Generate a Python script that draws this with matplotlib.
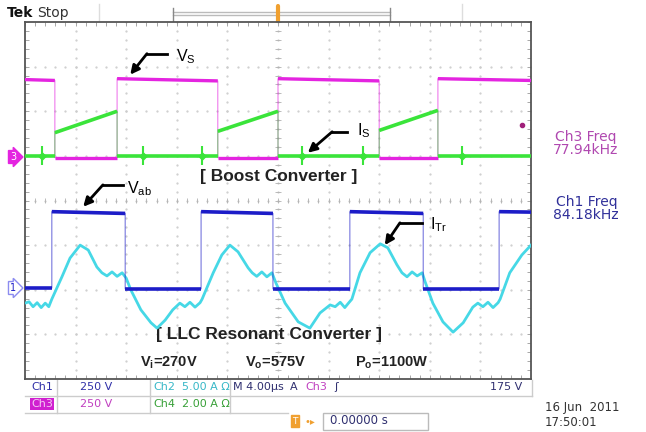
import numpy as np
import matplotlib.pyplot as plt

plt.rcParams['mathtext.fontset'] = 'custom'
plt.rcParams['mathtext.rm'] = 'Liberation Sans'
plt.rcParams['mathtext.bf'] = 'Liberation Sans:bold'

# screen units: 10 x divisions (4 us/div), 8 y divisions
# Ch3 - switch voltage Vs (magenta)
vs_t = [0, 0.59, 0.59, 1.82, 1.82, 3.81, 3.81, 5.0, 5.0, 7.0, 7.0, 8.16, 8.16, 10]
vs_v = [6.71, 6.69, 4.96, 4.96, 6.73, 6.68, 4.96, 4.96, 6.73, 6.68, 4.96, 4.96, 6.73, 6.69]

# Ch4 - switch current Is (green)
is_t = [0, 0.59, 0.59, 1.82, 1.82, 3.81, 3.81, 5.0, 5.0, 7.0, 7.0, 8.16, 8.16, 10]
is_v = [5.0, 5.0, 5.52, 6.0, 5.0, 5.0, 5.55, 6.0, 5.0, 5.0, 5.57, 6.02, 5.0, 5.0]
is_spike_t = [0.34, 2.34, 3.50, 5.47, 6.68, 8.64]

# Ch1 - bridge voltage Vab (blue)
vab_t = [0, 0.53, 0.53, 1.98, 1.98, 3.48, 3.48, 4.90, 4.90, 6.42, 6.42, 7.87, 7.87, 9.37, 9.37, 10]
vab_v = [2.04, 2.04, 3.75, 3.71, 2.02, 2.02, 3.75, 3.71, 2.02, 2.02, 3.75, 3.71, 2.02, 2.02, 3.75, 3.74]

# Ch2 - transformer current ITr (cyan)
itr_t = [0.00, 0.08, 0.16, 0.24, 0.32, 0.40, 0.47, 0.53,
         0.73, 0.89, 1.09, 1.25, 1.42,
         1.52, 1.62, 1.72, 1.82, 1.92, 2.00,
         2.09, 2.29, 2.49, 2.61, 2.77, 2.92,
         3.06, 3.16, 3.26, 3.36, 3.46, 3.50,
         3.72, 3.89, 4.05, 4.21, 4.41,
         4.49, 4.58, 4.68, 4.78, 4.88, 4.96,
         5.14, 5.40, 5.63, 5.83, 6.03,
         6.13, 6.23, 6.32, 6.40, 6.46,
         6.62, 6.82, 7.02, 7.17, 7.35,
         7.45, 7.55, 7.65, 7.75, 7.85, 7.91,
         8.06, 8.26, 8.46, 8.66, 8.85,
         8.95, 9.05, 9.15, 9.25, 9.35, 9.39,
         9.58, 9.82, 10.0]
itr_v = [1.70, 1.73, 1.62, 1.71, 1.60, 1.70, 1.62, 1.79,
         2.29, 2.71, 3.00, 2.89, 2.51,
         2.38, 2.31, 2.40, 2.30, 2.38, 2.26,
         2.00, 1.55, 1.26, 1.14, 1.32, 1.55,
         1.70, 1.62, 1.72, 1.61, 1.71, 1.79,
         2.38, 2.78, 3.00, 2.85, 2.49,
         2.38, 2.30, 2.40, 2.29, 2.38, 2.15,
         1.70, 1.28, 1.14, 1.48, 1.66,
         1.62, 1.72, 1.60, 1.71, 1.79,
         2.38, 2.83, 3.03, 2.94, 2.56,
         2.38, 2.29, 2.40, 2.31, 2.38, 2.17,
         1.70, 1.28, 1.05, 1.26, 1.61,
         1.70, 1.62, 1.72, 1.60, 1.71, 1.79,
         2.38, 2.78, 3.00]

MAG = '#e424e0'
GRN = '#3ae43a'
BLU = '#1c1cc8'
CYN = '#46d8e6'

W, H = 646, 432
fig = plt.figure(figsize=(W / 100, H / 100), dpi=100)

# pixel overlay for the scope decorations around the screen
deco = fig.add_axes([0, 0, 1, 1])
deco.set_xlim(0, W)
deco.set_ylim(H, 0)
deco.axis('off')

ax = fig.add_axes([25 / W, (H - 379) / H, 506 / W, 357 / H])
ax.set_xlim(0, 10)
ax.set_ylim(0, 8)
ax.set_xticks([])
ax.set_yticks([])
for s in ax.spines.values():
    s.set_color('#555555')
    s.set_linewidth(1.3)

# graticule
fine_x = np.arange(0, 10.01, 0.2)
fine_y = np.arange(0, 8.01, 0.2)
for i in range(1, 10):
    ax.plot([i] * len(fine_y), fine_y, ls='none', marker='.', ms=1.2, color='#cccccc')
for j in range(1, 8):
    ax.plot(fine_x, [j] * len(fine_x), ls='none', marker='.', ms=1.2, color='#cccccc')
ax.vlines(fine_x, 3.94, 4.06, color='#b0b0b0', lw=0.6)
ax.hlines(fine_y, 4.94, 5.06, color='#b0b0b0', lw=0.6)
ax.vlines(fine_x, 7.91, 8.0, color='#999999', lw=0.6)
ax.vlines(fine_x, 0.0, 0.09, color='#999999', lw=0.6)
ax.hlines(fine_y, 0.0, 0.07, color='#999999', lw=0.6)
ax.hlines(fine_y, 9.93, 10.0, color='#999999', lw=0.6)


def trace(t, v, color, lw, z):
    t = np.asarray(t)
    v = np.asarray(v)
    ax.plot(t, v, color=color, lw=0.8, alpha=0.6, zorder=z)
    for k in range(len(t) - 1):
        if t[k + 1] > t[k]:
            ax.plot(t[k:k + 2], v[k:k + 2], color=color, lw=lw,
                    solid_capstyle='butt', zorder=z)


trace(vs_t, vs_v, MAG, 2.4, 3)
trace(is_t, is_v, GRN, 2.6, 4)
ax.vlines(is_spike_t, 4.8, 5.22, color=GRN, lw=1.5, zorder=4)
ax.plot(is_spike_t, [5.0] * len(is_spike_t), ls='none', marker='D', ms=3.5, color=GRN, zorder=4)
ax.plot(itr_t, itr_v, color=CYN, lw=2.0, zorder=5)
trace(vab_t, vab_v, BLU, 2.6, 6)
ax.plot([9.82], [5.70], marker='o', ms=3, color='#a0207a', zorder=7)

# labels with arrows: tip, knee, end of horizontal stroke, text position
arrows = [
    ((2.08, 6.82), (2.41, 7.29), 2.81, (2.98, 7.22), r'$\mathrm{V_S}$'),
    ((5.59, 5.07), (6.07, 5.54), 6.36, (6.56, 5.56), r'$\mathrm{I_S}$'),
    ((1.15, 3.86), (1.54, 4.35), 1.94, (2.02, 4.26), r'$\mathrm{V_{ab}}$'),
    ((7.11, 3.00), (7.41, 3.50), 7.85, (8.00, 3.46), r'$\mathrm{I_{Tr}}$'),
]
for tip, knee, end, pos, lab in arrows:
    ax.plot([knee[0], end], [knee[1], knee[1]], color='k', lw=2, zorder=8)
    ax.annotate('', xy=tip, xytext=knee, zorder=8,
                arrowprops=dict(arrowstyle='-|>', color='k', lw=2, mutation_scale=13,
                                shrinkA=0, shrinkB=0))
    ax.text(pos[0], pos[1], lab, fontsize=11.5, va='center', ha='left', zorder=8)

ax.text(5.02, 4.53, '[ Boost Converter ]', fontsize=12.5, fontweight='bold',
        family='Liberation Sans', ha='center', va='center', color='#222222')
ax.text(4.82, 0.99, '[ LLC Resonant Converter ]', fontsize=12.5, fontweight='bold',
        family='Liberation Sans', ha='center', va='center', color='#222222')
ax.text(2.85, 0.36, r'$\mathbf{V_i}$=270V', fontsize=10.5, fontweight='bold',
        family='Liberation Sans', ha='center', va='center', color='#222222')
ax.text(4.95, 0.36, r'$\mathbf{V_o}$=575V', fontsize=10.5, fontweight='bold',
        family='Liberation Sans', ha='center', va='center', color='#222222')
ax.text(7.25, 0.36, r'$\mathbf{P_o}$=1100W', fontsize=10.5, fontweight='bold',
        family='Liberation Sans', ha='center', va='center', color='#222222')

# top status bar
deco.text(7, 13, 'Tek', fontsize=10, fontweight='bold', va='center', color='#111111')
deco.text(37, 13, 'Stop', fontsize=10, va='center', color='#333333')
deco.plot([173, 390], [12, 12], color='#bbbbbb', lw=1)
deco.plot([173, 390], [15, 15], color='#bbbbbb', lw=1)
deco.plot([173, 173], [8, 21], color='#888888', lw=1)
deco.plot([390, 390], [8, 21], color='#888888', lw=1)
deco.plot([99, 99], [4, 20], color='#dddddd', lw=1)
deco.plot([462, 462], [4, 20], color='#dddddd', lw=1)
deco.plot([278, 278], [6, 40], color='#f0a030', lw=3, solid_capstyle='round')
deco.text(278, 36, 'U', fontsize=6, ha='center', va='center', color='white',
          bbox=dict(boxstyle='round,pad=0.2', fc='#f0a030', ec='#f0a030'))

# channel ground markers
deco.text(13, 157, '3', fontsize=7, ha='center', va='center', color='white',
          bbox=dict(boxstyle='rarrow,pad=0.15', fc=MAG, ec=MAG))
deco.text(13, 288, '1', fontsize=7, ha='center', va='center', color=BLU,
          bbox=dict(boxstyle='rarrow,pad=0.15', fc='white', ec='#8c8cf0'))

# measurement readouts
deco.text(555, 137, 'Ch3 Freq', fontsize=10, va='center', color='#b048b0')
deco.text(553, 150, '77.94kHz', fontsize=10, va='center', color='#b048b0')
deco.text(556, 202, 'Ch1 Freq', fontsize=10, va='center', color='#30309a')
deco.text(553, 215, '84.18kHz', fontsize=10, va='center', color='#30309a')

# bottom channel settings
deco.plot([25, 532], [396, 396], color='#cccccc', lw=1)
deco.plot([25, 288], [413, 413], color='#cccccc', lw=1)
for xv in [57, 150, 230, 532]:
    deco.plot([xv, xv], [380, 413 if xv < 300 else 396], color='#cccccc', lw=1)
deco.text(31, 387, 'Ch1', fontsize=8, va='center', color='#3030a8')
deco.text(80, 387, '250 V', fontsize=8, va='center', color='#3030a8')
deco.text(153, 387, 'Ch2', fontsize=8, va='center', color='#38b8c8')
deco.text(182, 387, '5.00 A Ω', fontsize=8, va='center', color='#38b8c8')
deco.text(233, 387, 'M 4.00µs', fontsize=8, va='center', color='#303070')
deco.text(290, 387, 'A', fontsize=8, va='center', color='#303070')
deco.text(305, 387, 'Ch3', fontsize=8, va='center', color='#c040c0')
deco.text(334, 387, 'ʃ', fontsize=8, va='center', color='#303070')
deco.text(522, 387, '175 V', fontsize=8, va='center', ha='right', color='#303070')
deco.text(31, 404, 'Ch3', fontsize=8, va='center', color='#f4c8f4',
          bbox=dict(boxstyle='square,pad=0.1', fc='#d020d0', ec='none'))
deco.text(80, 404, '250 V', fontsize=8, va='center', color='#c040c0')
deco.text(153, 404, 'Ch4', fontsize=8, va='center', color='#38a038')
deco.text(182, 404, '2.00 A Ω', fontsize=8, va='center', color='#38a038')
deco.text(295, 421, 'T', fontsize=6.5, ha='center', va='center', color='white',
          bbox=dict(boxstyle='square,pad=0.15', fc='#f0a030', ec='#f0a030'))
deco.text(304, 421, '•▸', fontsize=7, va='center', color='#f0a030')
deco.add_patch(plt.Rectangle((323, 413), 105, 17, fill=False, ec='#bbbbbb', lw=1))
deco.text(330, 421, '0.00000 s', fontsize=8.5, va='center', color='#303070')
deco.text(545, 408, '16 Jun  2011', fontsize=8.5, va='center', color='#333333')
deco.text(545, 422, '17:50:01', fontsize=8.5, va='center', color='#333333')

fig.savefig('out.png', dpi=100)
